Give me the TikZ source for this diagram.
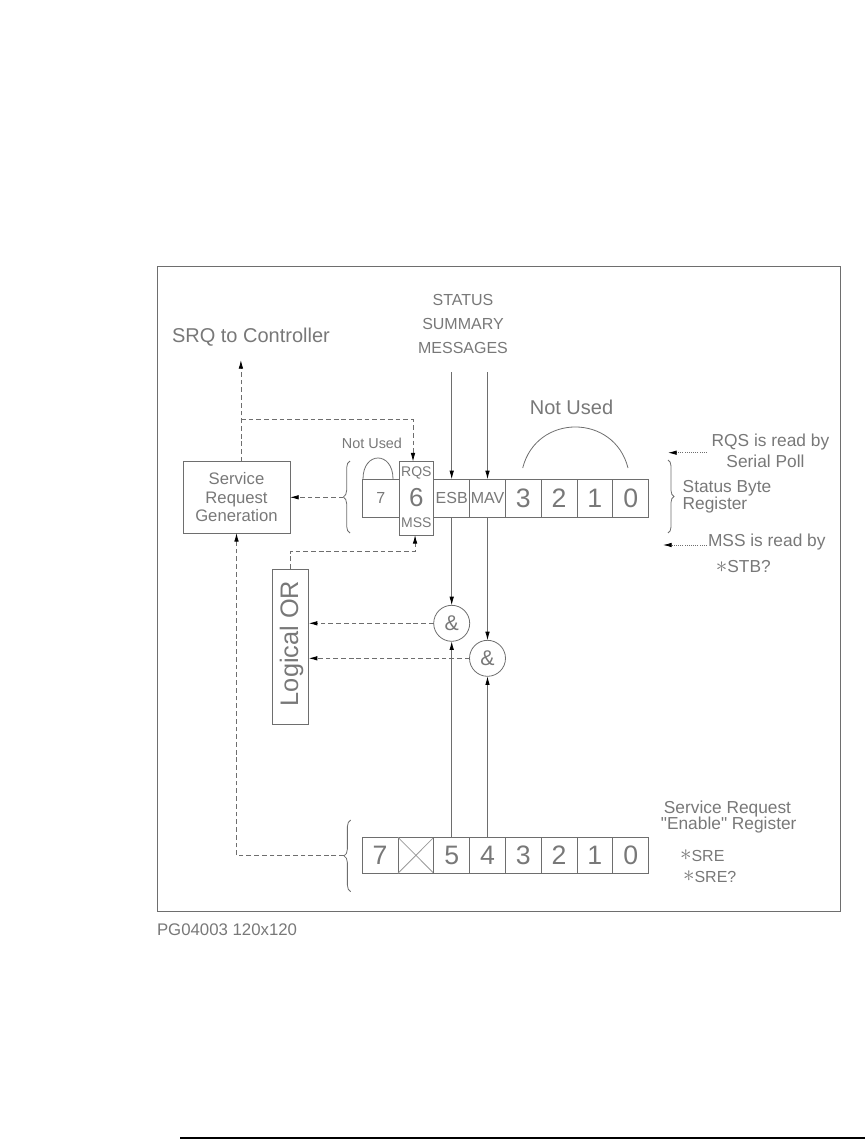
\documentclass[tikz,border=0pt]{standalone}
\usepackage{fontspec}
\setmainfont{Liberation Sans}
\newfontfamily\rawfont{Liberation Sans}
\usetikzlibrary{arrows.meta,decorations.pathreplacing}
\definecolor{lc}{RGB}{110,110,110}
\definecolor{tc}{RGB}{120,120,120}
\newcommand{\astk}{\smash{\raisebox{0.5pt}{\fontsize{16}{16}\selectfont$\ast$}}}
\begin{document}
\begin{tikzpicture}[x=0.75pt,y=-0.75pt,
  ln/.style={draw=lc,line width=0.6pt},
  tip/.style={-{Latex[length=6.5pt,width=3.4pt,color=black]}},
  dsh/.style={ln,dash pattern=on 3.6pt off 2.2pt},
  dtt/.style={ln,dash pattern=on 0.6pt off 1pt},
  lbl/.style={text=tc,inner sep=0pt,outer sep=0pt},
  fbig/.style={lbl,font=\fontsize{15}{18}\selectfont},
  fmid/.style={lbl,font=\fontsize{12}{18}\selectfont,align=center},
  fsrg/.style={lbl,font=\fontsize{12.5}{13.75}\selectfont,align=center},
  fsmall/.style={lbl,font=\fontsize{10.8}{12}\selectfont},
  fside/.style={lbl,font=\fontsize{13}{13}\selectfont},
  cell/.style={draw=lc,line width=0.6pt,minimum width=26.85pt,minimum height=28.3pt,inner sep=0pt,outer sep=0pt,text=tc},
  bcell/.style={cell,minimum height=27pt,font=\fontsize{20}{20}\selectfont},
  dig/.style={font=\fontsize{20}{20}\selectfont},
  gate/.style={draw=lc,line width=0.6pt,circle,minimum size=27pt,inner sep=0pt,outer sep=0pt,text=tc,font=\fontsize{16}{16}\selectfont},
  brc/.style={ln,decorate,decoration={brace,amplitude=#1}},
]
\useasboundingbox (0,0) rectangle (865,1139);
% frame
\draw[ln] (157,266) rectangle (840,911);

% SRQ and Service Request Generation
\node[fbig,anchor=west] (srq) at (172,337) {SRQ to Controller};
\node[ln,minimum width=80.25pt,minimum height=53.5pt,fsrg,inner sep=0pt] (SRG) at (236.5,497.3) {Service\\Request\\Generation};
\coordinate (srgtop) at (240.9,461.7);
\coordinate (srqtip) at (240.9,360);
\coordinate (br) at (240.9,419.3);

% status byte register
\node[cell,minimum width=27.4pt,font=\fontsize{12}{12}\selectfont] (s7) at (380.75,498.15) {7};
\node[cell,minimum width=26.1pt,minimum height=55pt] (s6) at (416.4,498.3) {};
\node[lbl,font=\fontsize{10.5}{10.5}\selectfont] (s6q) at (416.4,473.3) {RQS};
\node[lbl,font=\fontsize{19.5}{19.5}\selectfont] (s6n) at (416.4,497.5) {6};
\node[lbl,font=\fontsize{10.5}{10.5}\selectfont] (s6m) at (416.4,523) {MSS};
\node[cell,font=\fontsize{12}{12}\selectfont] (sE) at (451.7,498.15) {ESB};
\node[cell,font=\fontsize{12}{12}\selectfont] (sM) at (487.5,498.15) {MAV};
\node[cell,dig] (s3) at (523.3,498.15) {3};
\node[cell,dig] (s2) at (559.1,498.15) {2};
\node[cell,dig] (s1) at (594.9,498.15) {1};
\node[cell,dig] (s0) at (630.7,498.15) {0};

% not used labels and arcs
\node[fsmall] (nu1) at (372,443) {Not Used};
\draw[ln] (363,479) .. controls (363,451) and (393,451) .. (393,479);
\node[fbig] (nu2) at (571.5,407) {Not Used};
\draw[ln] (522.7,468) .. controls (536.4,413.3) and (614.3,413.3) .. (628,468);

% status summary messages
\node[fmid] (ssm) at (463,324) {STATUS\\SUMMARY\\MESSAGES};
\coordinate (esrc) at (451.7,372);
\coordinate (msrc) at (487.5,372);
\draw[ln,tip] (esrc) -- (sE.north);
\draw[ln,tip] (msrc) -- (sM.north);

% braces
\draw[brc=5pt] (350,533) -- (350,461);
\coordinate (sbtip) at (343.3,497.3);
\draw[brc=5pt] (350.7,891.7) -- (350.7,820);
\coordinate (bbtip) at (344,855.8);
\draw[brc=4.5pt] (668,460) -- (668,533);

% SRQ connectors
\draw[dsh,tip] (srgtop) -- (srqtip);
\draw[dsh,tip] (br) -| ([xshift=-2.55pt]s6.north);
\draw[dsh,tip] (sbtip) -- (SRG.east);
\draw[dsh,tip] (bbtip) -| (SRG.south);

% gates
\node[gate] (g1) at (451.7,623.3) {\&};
\node[gate] (g2) at (487.5,658.3) {\&};

% logical OR
\node[ln,minimum width=27pt,minimum height=116pt,inner sep=0pt] (OR) at (290.3,646.7) {};
\node[lbl,rotate=90,font=\fontsize{19}{19}\selectfont] (ORt) at (291.5,643.5) {Logical OR};
\coordinate (orup) at (290.3,551);
\draw[dsh,tip] (OR.north) -- (orup) -| ([xshift=-1pt]s6.south);
\draw[dsh,tip] (g1.west) -- (g1.west -| OR.east);
\draw[dsh,tip] (g2.west) -- (g2.west -| OR.east);

% enable register
\node[bcell] (b7) at (380.1,855.3) {7};
\node[bcell] (bX) at (415.9,855.3) {};
\draw[draw=lc!70,line width=0.6pt] (bX.north west) -- (bX.south east) (bX.south west) -- (bX.north east);
\node[bcell] (b5) at (451.7,855.3) {5};
\node[bcell] (b4) at (487.5,855.3) {4};
\node[bcell] (b3) at (523.3,855.3) {3};
\node[bcell] (b2) at (559.1,855.3) {2};
\node[bcell] (b1) at (594.9,855.3) {1};
\node[bcell] (b0) at (630.7,855.3) {0};

% gate connectors
\draw[ln,tip] (sE.south) -- (g1.north);
\draw[ln,tip] (b5.north) -- (g1.south);
\draw[ln,tip] (sM.south) -- (g2.north);
\draw[ln,tip] (b4.north) -- (g2.south);

% right labels
\node[fside,anchor=west] (rq1) at (711.7,441.7) {RQS is read by};
\node[fside] (rq2) at (765.5,461.7) {Serial Poll};
\coordinate (rqa) at (706.7,452.7);
\coordinate (rqb) at (668,452.7);
\draw[dtt,tip] (rqa) -- (rqb);
\node[fside,anchor=west] (sb1) at (682.7,488.3) {Status Byte};
\node[fside,anchor=west] (sb2) at (682.7,505) {Register};
\node[fside,anchor=west] (ms1) at (708,541.7) {MSS is read by};
\node[fside] (ms2) at (743.3,566.7) {\astk STB?};
\coordinate (msa) at (706.7,545);
\coordinate (msb) at (663,545);
\draw[dtt,tip] (msa) -- (msb);

\node[fside] (sr1) at (727.5,809.5) {Service Request};
\node[fside] (sr2) at (728.7,825.5) {{\rawfont"}Enable{\rawfont"} Register};
\node[fside,font=\fontsize{12}{12}\selectfont,anchor=west] (sr3) at (680,856) {\astk SRE};
\node[fside,font=\fontsize{12}{12}\selectfont,anchor=west] (sr4) at (683,877) {\astk SRE?};

% footer
\node[fside,font=\fontsize{12.6}{12.6}\selectfont,anchor=west] (pg) at (157,930) {PG04003 120x120};
\draw[line width=1.7pt,black] (180,1137.8) -- (865,1137.8);
\end{tikzpicture}
\end{document}
